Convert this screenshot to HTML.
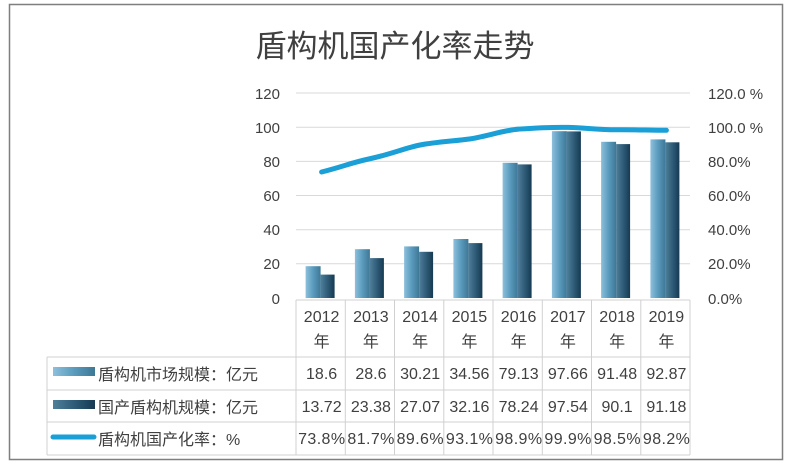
<!DOCTYPE html>
<html><head><meta charset="utf-8"><style>
body{margin:0;background:#fff;}
svg text{font-family:"Liberation Sans","Noto Sans CJK SC",sans-serif;fill:#404040;}
</style></head><body>
<svg width="790" height="470" viewBox="0 0 790 470" xmlns="http://www.w3.org/2000/svg">
<defs>
<linearGradient id="g1" x1="0" x2="1" y1="0" y2="0"><stop offset="0" stop-color="#8dc0dc"/><stop offset="0.5" stop-color="#5a9bbd"/><stop offset="1" stop-color="#3f7796"/></linearGradient>
<linearGradient id="g2" x1="0" x2="1" y1="0" y2="0"><stop offset="0" stop-color="#4f7f9a"/><stop offset="0.5" stop-color="#2f5c78"/><stop offset="1" stop-color="#163a52"/></linearGradient>
</defs>
<rect x="9.5" y="4.5" width="773" height="455" fill="#fff" stroke="#7f7f7f" stroke-width="1.5"/>
<text x="395" y="57" font-size="31" text-anchor="middle" fill="#404040">盾构机国产化率走势</text>
<g stroke="#d9d9d9" stroke-width="1">
<line x1="296" x2="690" y1="93" y2="93"/><line x1="296" x2="690" y1="127.2" y2="127.2"/><line x1="296" x2="690" y1="161.4" y2="161.4"/><line x1="296" x2="690" y1="195.5" y2="195.5"/><line x1="296" x2="690" y1="229.7" y2="229.7"/><line x1="296" x2="690" y1="263.8" y2="263.8"/>
</g>
<g font-size="15" text-anchor="end">
<text x="280" y="99">120</text><text x="280" y="133">100</text><text x="280" y="167">80</text><text x="280" y="201">60</text><text x="280" y="235">40</text><text x="280" y="269">20</text><text x="280" y="304">0</text>
</g>
<g font-size="15">
<text x="708" y="99">120.0 %</text><text x="708" y="133">100.0 %</text><text x="708" y="167">80.0%</text><text x="708" y="201">60.0%</text><text x="708" y="235">40.0%</text><text x="708" y="269">20.0%</text><text x="708" y="304">0.0%</text>
</g>
<g fill="url(#g1)">
<rect x="305.6" y="266.2" width="15" height="31.8"/><rect x="354.9" y="249.2" width="15" height="48.8"/><rect x="404.1" y="246.4" width="15" height="51.6"/><rect x="453.4" y="239" width="15" height="59"/><rect x="502.6" y="162.8" width="15" height="135.2"/><rect x="551.9" y="131.2" width="15" height="166.8"/><rect x="601.1" y="141.8" width="15" height="156.2"/><rect x="650.4" y="139.4" width="15" height="158.6"/>
</g>
<g fill="url(#g2)">
<rect x="320.6" y="274.6" width="14" height="23.4"/><rect x="369.9" y="258.1" width="14" height="39.9"/><rect x="419.1" y="251.8" width="14" height="46.2"/><rect x="468.4" y="243.1" width="14" height="54.9"/><rect x="517.6" y="164.4" width="14" height="133.6"/><rect x="566.9" y="131.4" width="14" height="166.6"/><rect x="616.1" y="144.1" width="14" height="153.9"/><rect x="665.4" y="142.3" width="14" height="155.7"/>
</g>
<path d="M321.6,172 C345,166 350,163 370.9,158.5 S405,148 420.1,145 S455,141 469.4,139 S505,130 518.6,129.1 S550,127 567.9,127.4 S600,130 617.1,129.8 S650,130.3 666.4,130.3" fill="none" stroke="#1a9fd6" stroke-width="5" stroke-linecap="round"/>
<g stroke="#d0d0d0" stroke-width="1" fill="none">
<line x1="296" y1="300" x2="690" y2="300"/>
<line x1="47" y1="357" x2="690" y2="357"/><line x1="47" y1="390" x2="690" y2="390"/><line x1="47" y1="422" x2="690" y2="422"/><line x1="47" y1="455" x2="690" y2="455"/>
<line x1="47" y1="357" x2="47" y2="455"/>
<line x1="296" y1="300" x2="296" y2="455"/><line x1="345.3" y1="300" x2="345.3" y2="455"/><line x1="394.5" y1="300" x2="394.5" y2="455"/><line x1="443.8" y1="300" x2="443.8" y2="455"/><line x1="493" y1="300" x2="493" y2="455"/><line x1="542.3" y1="300" x2="542.3" y2="455"/><line x1="591.5" y1="300" x2="591.5" y2="455"/><line x1="640.8" y1="300" x2="640.8" y2="455"/><line x1="690" y1="300" x2="690" y2="455"/>
</g>
<g font-size="16" text-anchor="middle">
<text x="321.6" y="322">2012</text><text x="370.9" y="322">2013</text><text x="420.1" y="322">2014</text><text x="469.4" y="322">2015</text><text x="518.6" y="322">2016</text><text x="567.9" y="322">2017</text><text x="617.1" y="322">2018</text><text x="666.4" y="322">2019</text>
<text x="321.6" y="347">年</text><text x="370.9" y="347">年</text><text x="420.1" y="347">年</text><text x="469.4" y="347">年</text><text x="518.6" y="347">年</text><text x="567.9" y="347">年</text><text x="617.1" y="347">年</text><text x="666.4" y="347">年</text>
<text x="321.6" y="379">18.6</text><text x="370.9" y="379">28.6</text><text x="420.1" y="379">30.21</text><text x="469.4" y="379">34.56</text><text x="518.6" y="379">79.13</text><text x="567.9" y="379">97.66</text><text x="617.1" y="379">91.48</text><text x="666.4" y="379">92.87</text>
<text x="321.6" y="412">13.72</text><text x="370.9" y="412">23.38</text><text x="420.1" y="412">27.07</text><text x="469.4" y="412">32.16</text><text x="518.6" y="412">78.24</text><text x="567.9" y="412">97.54</text><text x="617.1" y="412">90.1</text><text x="666.4" y="412">91.18</text>
<text x="321.6" y="444" textLength="47">73.8%</text><text x="370.9" y="444" textLength="47">81.7%</text><text x="420.1" y="444" textLength="47">89.6%</text><text x="469.4" y="444" textLength="47">93.1%</text><text x="518.6" y="444" textLength="47">98.9%</text><text x="567.9" y="444" textLength="47">99.9%</text><text x="617.1" y="444" textLength="47">98.5%</text><text x="666.4" y="444" textLength="47">98.2%</text>
</g>
<rect x="53" y="367" width="42" height="9" fill="url(#g1)"/>
<rect x="53" y="400" width="42" height="9" fill="url(#g2)"/>
<line x1="53" y1="437" x2="94" y2="437" stroke="#1a9fd6" stroke-width="5" stroke-linecap="round"/>
<g font-size="16">
<text x="98" y="380">盾构机市场规模：亿元</text>
<text x="98" y="413">国产盾构机规模：亿元</text>
<text x="98" y="445">盾构机国产化率：%</text>
</g>
</svg>
</body></html>
